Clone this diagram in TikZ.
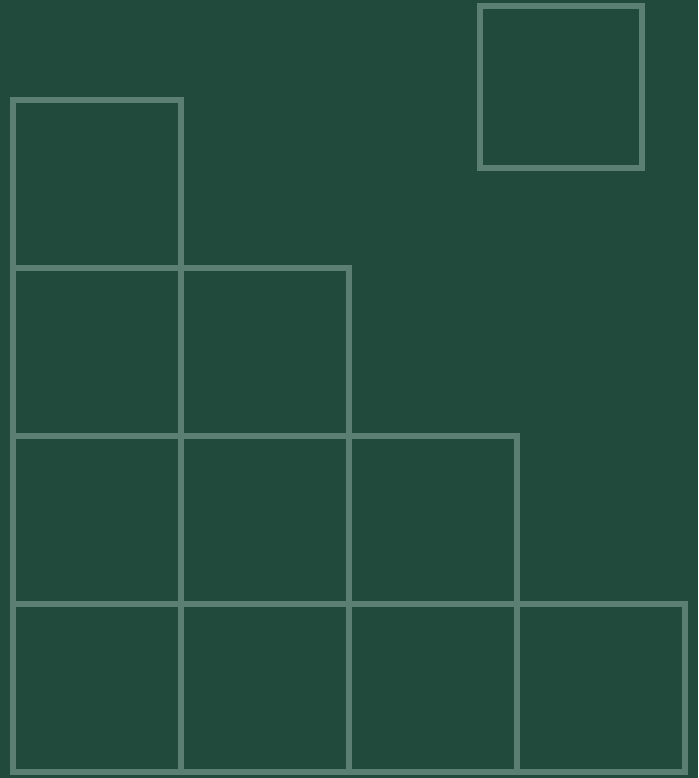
\documentclass[tikz,border=0pt]{standalone}
\definecolor{boardgreen}{RGB}{33,74,61}
\definecolor{chalkline}{RGB}{92,127,115}
\tikzset{cellbox/.style={draw=chalkline, line width=3.2pt}}
\begin{document}
\begin{tikzpicture}[x=0.02cm, y=-0.02cm]
            \fill[boardgreen] (0,0) rectangle (698,778);
            \useasboundingbox (0,0) rectangle (698,778);
            \foreach \row in {0,...,3} {
                \foreach \col in {0,...,\row}
                    \draw[cellbox] ({13+168*\col},{100+168*\row}) rectangle ++(168,168);
            }
            \draw[cellbox] (480,6) rectangle (642,168);
        \end{tikzpicture}
\end{document}
